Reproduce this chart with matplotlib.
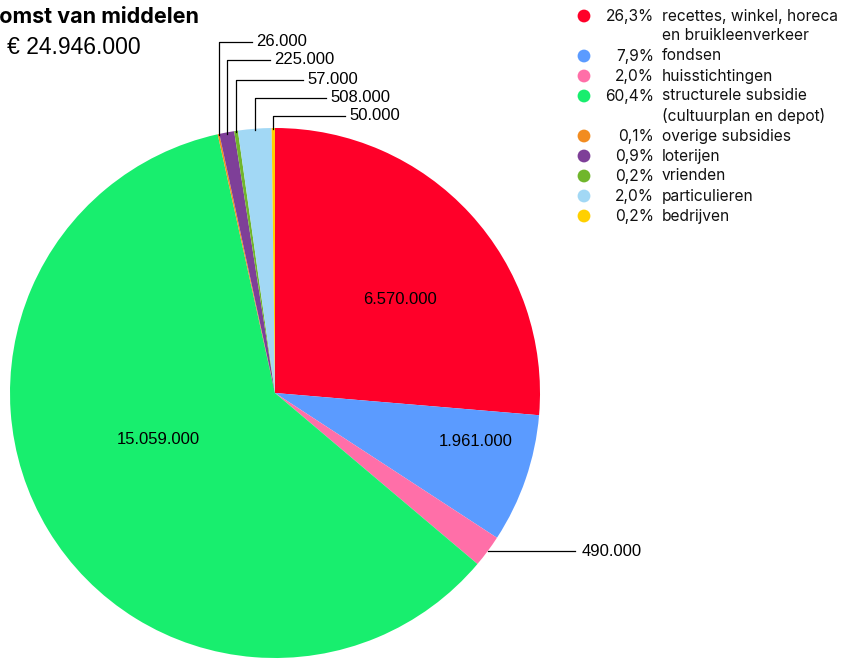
import matplotlib.pyplot as plt
import numpy as np

W, H = 843, 659

categories = ["recettes, winkel, horeca\nen bruikleenverkeer", "fondsen", "huisstichtingen",
              "structurele subsidie\n(cultuurplan en depot)", "overige subsidies", "loterijen",
              "vrienden", "particulieren", "bedrijven"]
values = [6570000, 1961000, 490000, 15059000, 26000, 225000, 57000, 508000, 50000]
colors = ["#ff0029", "#5b9bff", "#ff6fa8", "#18ee6e", "#f28c20", "#7e3f98",
          "#70b62c", "#a2d8f5", "#ffd000"]
title = "Herkomst van middelen"

total = sum(values)


def fmt(v):
    return f"{v:,}".replace(",", ".")


def pct(v):
    return f"{100 * v / total:.1f}%".replace(".", ",")


fig = plt.figure(figsize=(W / 100, H / 100), dpi=100)

# pie axes: centre (275, 393) px, radius 265 px
cx, cy, r = 275, 393, 265
ax = fig.add_axes([(cx - r) / W, (H - cy - r) / H, 2 * r / W, 2 * r / H])
ax.pie(values, colors=colors, startangle=90, counterclock=False, radius=1,
       wedgeprops=dict(linewidth=0))
ax.set_xlim(-1, 1)
ax.set_ylim(-1, 1)
ax.set_aspect("equal")
ax.axis("off")

# overlay in pixel coordinates for labels and leader lines
ov = fig.add_axes([0, 0, 1, 1], facecolor="none")
ov.set_xlim(0, W)
ov.set_ylim(H, 0)
ov.axis("off")

lab_font = dict(family="Liberation Sans", fontsize=12, color="black")

cum = np.cumsum([0] + values)
mids = [(cum[i] + values[i] / 2) / total * 2 * np.pi for i in range(len(values))]


def edge(i, rr=1.0):
    a = mids[i]
    return cx + rr * r * np.sin(a), cy - rr * r * np.cos(a)


# labels inside large wedges
inside = {0: (400, 299), 1: (476, 442), 3: (158, 440)}
for i, (x, y) in inside.items():
    ov.text(x, y, fmt(values[i]), ha="center", va="center", **lab_font)

# pink wedge label with horizontal leader
x0, y0 = edge(2)
ov.plot([x0, 575], [y0, y0], color="black", lw=0.9)
ov.text(582, y0, fmt(values[2]), ha="left", va="center", **lab_font)

# small wedges at top with elbow leaders
tops = {4: (42, 252), 5: (60, 270), 6: (80, 303), 7: (98, 326), 8: (116, 345)}
for i, (ly, lx) in tops.items():
    x0, y0 = edge(i, 0.995)
    ov.plot([x0, x0, lx], [y0, ly, ly], color="black", lw=0.9)
    ov.text(lx + 4, ly - 1, fmt(values[i]), ha="left", va="center", **lab_font)

# title (cut off at the left edge, as in the source) & subtitle
title_font = dict(family="Inter", fontweight="bold", fontsize=15.5, color="black")
rend = fig.canvas.get_renderer()
probe = fig.text(0, 0, title[:4], **title_font)
cut = probe.get_window_extent(rend).width
probe.remove()
ov.text(-cut - 1, 17, title, ha="left", va="center", **title_font)
ov.text(7, 48, "€ " + fmt(total), ha="left", va="center", family="Liberation Sans",
        fontsize=16.5, color="black")

# legend
leg_font = dict(family="Inter", fontsize=11.2, color="#111111")
y = 16
for i, cat in enumerate(categories):
    ov.scatter([584], [y], s=85, color=colors[i], edgecolors="none")
    ov.text(654, y, pct(values[i]), ha="right", va="center", **leg_font)
    lines = cat.split("\n")
    for j, ln in enumerate(lines):
        ov.text(662, y + 20 * j, ln, ha="left", va="center", **leg_font)
    y += 20 * len(lines)

fig.savefig("out.png", dpi=100)
